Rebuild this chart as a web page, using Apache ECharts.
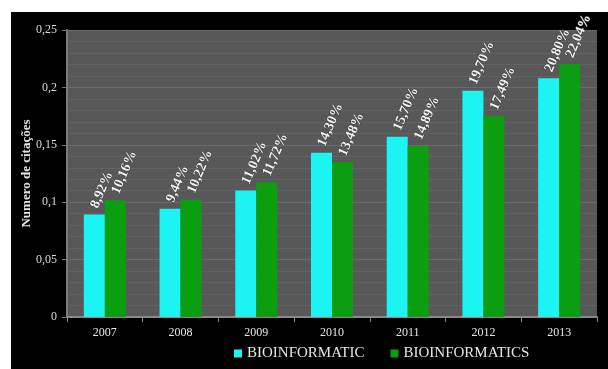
<!DOCTYPE html>
<html>
<head>
<meta charset="utf-8">
<script src="https://cdn.jsdelivr.net/npm/echarts@6/dist/echarts.min.js"></script>
<style>
html,body{margin:0;padding:0;background:#fff;width:608px;height:369px;overflow:hidden;}
#c{position:absolute;left:11px;top:12px;width:597px;height:357px;background:#000;}
</style>
</head>
<body>
<div id="c"></div>
<script>
const categories = ['2007','2008','2009','2010','2011','2012','2013'];
const seriesNames = ['BIOINFORMATIC','BIOINFORMATICS'];
const bioinformatic = [0.0892, 0.0944, 0.1102, 0.1430, 0.1570, 0.1970, 0.2080];
const bioinformatics = [0.1016, 0.1022, 0.1172, 0.1348, 0.1489, 0.1749, 0.2204];
const yTicks = [0, 0.05, 0.1, 0.15, 0.2, 0.25];

const fmtPct = v => (v*100).toFixed(2).replace('.', ',') + '%';
const fmtTick = v => String(v).replace('.', ',');
const serif = '"Liberation Serif","DejaVu Serif",serif';

const chart = echarts.init(document.getElementById('c'));
const labelCfg = {
  show: true,
  position: 'top',
  rotate: 67,
  align: 'left',
  verticalAlign: 'middle',
  distance: 7,
  color: '#f2f2f2',
  fontFamily: serif,
  fontWeight: 'bold',
  fontSize: 14,
  textBorderColor: '#3a3a3a',
  textBorderWidth: 1,
  formatter: p => fmtPct(p.value)
};
chart.setOption({
  backgroundColor: '#000',
  animation: false,
  grid: {
    left: 56, right: 11, top: 18, bottom: 52,
    outerBoundsMode: 'none',
    containLabel: false,
    show: true, backgroundColor: '#585858', borderWidth: 0
  },
  legend: {
    bottom: 3, left: 218,
    itemWidth: 8, itemHeight: 8, itemGap: 26,
    icon: 'rect',
    textStyle: { color: '#e6e6e6', fontFamily: serif, fontSize: 15 },
    data: seriesNames
  },
  xAxis: {
    type: 'category',
    data: categories,
    axisLine: { lineStyle: { color: '#8a8a8a', width: 2 } },
    axisTick: { show: true, lineStyle: { color: '#8a8a8a' } },
    axisLabel: { color: '#e6e6e6', fontFamily: serif, fontSize: 12, margin: 10 },
    splitLine: { show: false }
  },
  yAxis: {
    type: 'value',
    min: 0, max: 0.25, interval: 0.05,
    name: 'Numero de citações',
    nameLocation: 'middle',
    nameGap: 34,
    nameMoveOverlap: false,
    nameTextStyle: { color: '#e6e6e6', fontFamily: serif, fontWeight: 'bold', fontSize: 13 },
    axisLine: { show: true, lineStyle: { color: '#7a7a7a', width: 2 } },
    axisTick: { show: true, lineStyle: { color: '#7a7a7a' } },
    axisLabel: { color: '#dcdcdc', fontFamily: serif, fontSize: 12, margin: 10,
      formatter: v => yTicks.includes(v) ? fmtTick(v) : '' },
    splitLine: { show: true, lineStyle: { color: '#6a6a6a', width: 1 } },
    minorTick: { show: false, splitNumber: 5 },
    minorSplitLine: { show: true, lineStyle: { color: '#626262', width: 1 } }
  },
  series: [
    { name: seriesNames[0], type: 'bar', data: bioinformatic, barWidth: 21, barGap: '0%',
      itemStyle: { color: '#1cf4f4' }, label: labelCfg },
    { name: seriesNames[1], type: 'bar', data: bioinformatics, barWidth: 21,
      itemStyle: { color: '#0b9e10' }, label: labelCfg }
  ]
});
</script>
</body>
</html>
